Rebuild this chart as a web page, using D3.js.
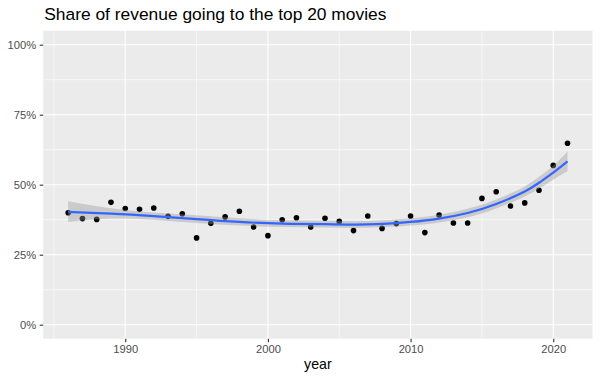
<!DOCTYPE html>
<html>
<head>
<meta charset="utf-8">
<script src="https://cdn.jsdelivr.net/npm/d3@7"></script>
<style>
  body { margin: 0; background: #fff; }
  svg { display: block; font-family: "Liberation Sans", Arial, Helvetica, sans-serif; }
</style>
</head>
<body>
<svg id="chart" width="600" height="380"></svg>
<script>
// ---- data ----
const years = [1986, 1987, 1988, 1989, 1990, 1991, 1992, 1993, 1994, 1995, 1996, 1997,
               1998, 1999, 2000, 2001, 2002, 2003, 2004, 2005, 2006, 2007, 2008, 2009,
               2010, 2011, 2012, 2013, 2014, 2015, 2016, 2017, 2018, 2019, 2020, 2021];
const shares = [0.400, 0.379, 0.376, 0.437, 0.415, 0.412, 0.417, 0.387, 0.396, 0.310, 0.362, 0.385,
                0.405, 0.349, 0.318, 0.375, 0.382, 0.349, 0.380, 0.369, 0.336, 0.388, 0.344, 0.361,
                0.388, 0.329, 0.392, 0.363, 0.363, 0.451, 0.475, 0.424, 0.435, 0.480, 0.569, 0.648];

// loess smooth
const smoothYears = [1986, 1989, 1992, 1995, 1998, 2001, 2004, 2007, 2010, 2012, 2014, 2016, 2018, 2019, 2020, 2021];
const smoothFit   = [0.403, 0.397, 0.388, 0.377, 0.367, 0.361, 0.359, 0.358, 0.367, 0.379, 0.399, 0.431, 0.476, 0.507, 0.543, 0.583];
const smoothLow   = [0.367, 0.379, 0.375, 0.363, 0.354, 0.349, 0.347, 0.346, 0.354, 0.365, 0.384, 0.415, 0.458, 0.486, 0.518, 0.548];
const smoothHigh  = [0.441, 0.416, 0.401, 0.391, 0.380, 0.373, 0.371, 0.370, 0.380, 0.393, 0.414, 0.447, 0.494, 0.528, 0.568, 0.619];

const xTicks = [1990, 2000, 2010, 2020];
const xMinor = [1985, 1995, 2005, 2015];
const yTicks = [0, 0.25, 0.5, 0.75, 1];
const yMinor = [0.125, 0.375, 0.625, 0.875];
const titleText = "Share of revenue going to the top 20 movies";
const xLabel = "year";

// ---- layout ----
const svg = d3.select("#chart");
const panel = { left: 43.2, right: 592.5, top: 30.7, bottom: 338.7 };

const xPad = (2021 - 1986) * 0.05;
const x = d3.scaleLinear().domain([1986 - xPad, 2021 + xPad]).range([panel.left, panel.right]);
const y = d3.scaleLinear().domain([-0.05, 1.05]).range([panel.bottom, panel.top]);

// panel background
svg.append("rect")
  .attr("x", panel.left).attr("y", panel.top)
  .attr("width", panel.right - panel.left).attr("height", panel.bottom - panel.top)
  .attr("fill", "#EBEBEB");

const grid = svg.append("g");
// minor grid
grid.selectAll(".ymin").data(yMinor).join("line")
  .attr("x1", panel.left).attr("x2", panel.right)
  .attr("y1", d => y(d)).attr("y2", d => y(d))
  .attr("stroke", "#fff").attr("stroke-width", 0.55);
grid.selectAll(".xmin").data(xMinor).join("line")
  .attr("y1", panel.top).attr("y2", panel.bottom)
  .attr("x1", d => x(d)).attr("x2", d => x(d))
  .attr("stroke", "#fff").attr("stroke-width", 0.55);
// major grid
grid.selectAll(".ymaj").data(yTicks).join("line")
  .attr("x1", panel.left).attr("x2", panel.right)
  .attr("y1", d => y(d)).attr("y2", d => y(d))
  .attr("stroke", "#fff").attr("stroke-width", 1.1);
grid.selectAll(".xmaj").data(xTicks).join("line")
  .attr("y1", panel.top).attr("y2", panel.bottom)
  .attr("x1", d => x(d)).attr("x2", d => x(d))
  .attr("stroke", "#fff").attr("stroke-width", 1.1);

// points
svg.append("g").selectAll("circle").data(years).join("circle")
  .attr("cx", (d, i) => x(d))
  .attr("cy", (d, i) => y(shares[i]))
  .attr("r", 2.8)
  .attr("fill", "#000");

// confidence ribbon
const band = smoothYears.map((yr, i) => ({ yr, lo: smoothLow[i], hi: smoothHigh[i], fit: smoothFit[i] }));
svg.append("path")
  .datum(band)
  .attr("d", d3.area().curve(d3.curveNatural)
    .x(d => x(d.yr)).y0(d => y(d.lo)).y1(d => y(d.hi)))
  .attr("fill", "#999999").attr("fill-opacity", 0.4);

// smooth line
svg.append("path")
  .datum(band)
  .attr("d", d3.line().curve(d3.curveNatural).x(d => x(d.yr)).y(d => y(d.fit)))
  .attr("fill", "none").attr("stroke", "#3366FF").attr("stroke-width", 2.2);

// axes
const xAxis = d3.axisBottom(x).tickValues(xTicks).tickFormat(d3.format("d"))
  .tickSizeInner(3.5).tickSizeOuter(0).tickPadding(3);
const gx = svg.append("g").attr("transform", `translate(0,${panel.bottom})`).call(xAxis);
gx.select(".domain").remove();
gx.selectAll("line").attr("stroke", "#333333").attr("stroke-width", 1.1);
gx.selectAll("text").attr("fill", "#4D4D4D").attr("font-size", "11.2px")
  .attr("font-family", "Liberation Sans, Arial, sans-serif");

const yAxis = d3.axisLeft(y).tickValues(yTicks).tickFormat(d3.format(".0%"))
  .tickSizeInner(3.5).tickSizeOuter(0).tickPadding(3.5);
const gy = svg.append("g").attr("transform", `translate(${panel.left},0)`).call(yAxis);
gy.select(".domain").remove();
gy.selectAll("line").attr("stroke", "#333333").attr("stroke-width", 1.1);
gy.selectAll("text").attr("fill", "#4D4D4D").attr("font-size", "11.2px")
  .attr("font-family", "Liberation Sans, Arial, sans-serif");

// axis title
svg.append("text")
  .attr("x", (panel.left + panel.right) / 2).attr("y", 369)
  .attr("text-anchor", "middle").attr("font-size", "14.2px").attr("fill", "#000")
  .text(xLabel);

// plot title
svg.append("text")
  .attr("x", panel.left + 1).attr("y", 19.5)
  .attr("font-size", "17.4px").attr("fill", "#000")
  .text(titleText);
</script>
</body>
</html>
